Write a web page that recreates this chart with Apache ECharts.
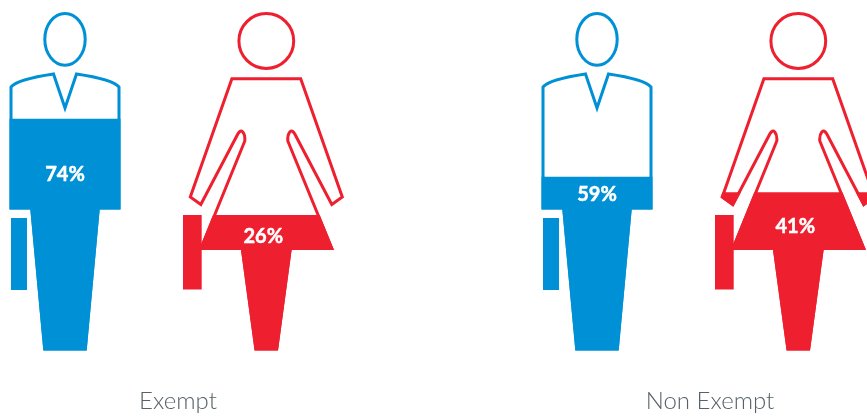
<!DOCTYPE html>
<html>
<head>
<meta charset="utf-8">
<style>html,body{margin:0;padding:0;background:#fff}#chart{width:867px;height:416px}</style>
<script src="https://cdn.jsdelivr.net/npm/echarts@6/dist/echarts.min.js"></script>
</head>
<body>
<div id="chart"></div>
<script>
// Share of each employee class, by gender.
const categories = ['Exempt', 'Non Exempt'];
const menShare = [74, 59];
const womenShare = [26, 41];

const BLUE = '#0090d6';
const RED = '#ee1f2f';
const GREY = '#566268';

// Icon glyphs, local to each figure's vertical centre line.
const MAN_BODY = 'M-54,208 L-54,87 C-48,80 -25,76 -11.5,74 L0,108 L11.5,74 C25,76 48,80 54,87 ' +
  'L54,208 L33.3,208 L20.3,349 L-20.3,349 L-33.3,208 Z';
const WOMAN_BODY = 'M-34.4,78.8 L34.4,78.8 L76,197 L65.5,204.5 L28.5,134 Q26,129.5 23.5,132 Q21,135 21.5,141 ' +
  'L65.5,248.5 L24,248.5 L10.4,349 L-10.4,349 L-24,248.5 L-65.3,248.5 L-21.5,141 Q-21,135 -23.5,132 ' +
  'Q-26,129.5 -28.5,134 L-65.5,204.5 L-76,197 Z';

const glyphs = {
  man: {
    color: BLUE, offset: -113, body: MAN_BODY,
    head: { type: 'ellipse', shape: { cx: 0, cy: 39.3, rx: 20.2, ry: 25.9 } },
    briefcase: { x: -54, y: 218, width: 16, height: 72 },
    labelDx: 0, labelY: [175, 195]
  },
  woman: {
    color: RED, offset: 88.3, body: WOMAN_BODY,
    head: { type: 'circle', shape: { cx: 0, cy: 41, r: 27.4 } },
    briefcase: { x: -83.3, y: 215, width: 18.7, height: 74.5 },
    labelDx: -3, labelY: [237, 227]
  }
};

// One figure per data item: the level comes from the value axis, the solid copy is clipped to it.
function figureRenderer(g) {
  return function (params, api) {
    const idx = api.value(0);
    const share = api.value(1);
    const x = api.coord([idx, 0])[0] + g.offset;
    const level = api.coord([idx, share])[1];
    const line = { fill: null, stroke: g.color, lineWidth: 3 };
    const joined = { lineJoin: 'miter', miterLimit: 12 };
    return {
      type: 'group',
      x: x,
      children: [
        { type: g.head.type, shape: g.head.shape, style: line },
        { type: 'path', shape: { pathData: g.body },
          style: Object.assign({ fill: '#fff', stroke: g.color, lineWidth: 3 }, joined) },
        { type: 'path', shape: { pathData: g.body },
          style: Object.assign({ fill: g.color, stroke: g.color, lineWidth: 3 }, joined),
          clipPath: { type: 'rect', shape: { x: -120, y: level, width: 240, height: 400 } } },
        { type: 'rect', shape: g.briefcase, style: { fill: g.color } },
        { type: 'text', x: g.labelDx, y: g.labelY[idx],
          style: { text: share + '%', fill: '#fff', stroke: '#fff', lineWidth: 0.5,
                   align: 'center', verticalAlign: 'middle', font: 'bold 20px Lato' } }
      ]
    };
  };
}

const hiddenAxis = { type: 'value', show: false, splitLine: { show: false } };

const chart = echarts.init(document.getElementById('chart'), null, { renderer: 'canvas' });
chart.setOption({
  animation: false,
  backgroundColor: '#fff',
  grid: { left: 178, top: 0, width: 532, height: 380, containLabel: false },
  xAxis: {
    type: 'category',
    boundaryGap: false,
    data: categories,
    axisLine: { show: false },
    axisTick: { show: false },
    axisLabel: { interval: 0, margin: 9, color: GREY, fontFamily: 'Lato', fontWeight: 300, fontSize: 24 }
  },
  yAxis: [
    Object.assign({ min: 6.41, max: 104.7 }, hiddenAxis),
    Object.assign({ min: -83.1, max: 168.1 }, hiddenAxis)
  ],
  series: [
    { name: 'Men', type: 'custom', yAxisIndex: 0, renderItem: figureRenderer(glyphs.man),
      encode: { x: 0, y: 1 }, data: menShare.map((v, i) => [i, v]) },
    { name: 'Women', type: 'custom', yAxisIndex: 1, renderItem: figureRenderer(glyphs.woman),
      encode: { x: 0, y: 1 }, data: womenShare.map((v, i) => [i, v]) }
  ]
});
</script>
</body>
</html>
